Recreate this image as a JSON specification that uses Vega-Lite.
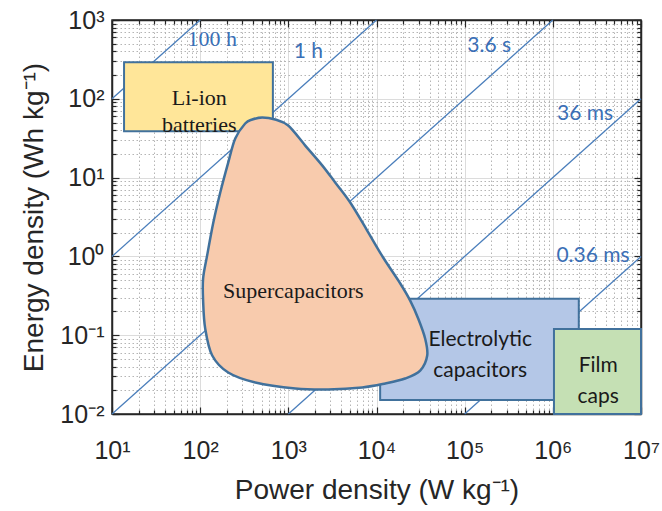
{
  "$schema": "https://vega.github.io/schema/vega-lite/v6.json",
  "width": 529,
  "height": 394,
  "autosize": "none",
  "padding": {"left": 112, "top": 20, "right": 21, "bottom": 97},
  "background": "white",
  "datasets": {
    "lines": [
      {"P1": 10, "E1": 100, "P2": 100, "E2": 1000},
      {"P1": 10, "E1": 1, "P2": 10000, "E2": 1000},
      {"P1": 10, "E1": 0.01, "P2": 1000000, "E2": 1000},
      {"P1": 1000, "E1": 0.01, "P2": 10000000, "E2": 100},
      {"P1": 100000, "E1": 0.01, "P2": 10000000, "E2": 1}
    ],
    "liion": [{"P1": 13.7, "P2": 668, "E1": 38.7, "E2": 292}],
    "electro": [{"P1": 11000, "P2": 1970000, "E1": 0.0151, "E2": 0.29}],
    "film": [{"P1": 1030000, "P2": 10000000, "E1": 0.01, "E2": 0.12}],
    "blob": [
      {"i": 1, "P": 506, "E": 57.9},
      {"i": 2, "P": 710, "E": 54.6},
      {"i": 3, "P": 997, "E": 45.8},
      {"i": 4, "P": 1556, "E": 25.5},
      {"i": 5, "P": 2420, "E": 14.3},
      {"i": 6, "P": 3400, "E": 8.67},
      {"i": 7, "P": 5035, "E": 4.83},
      {"i": 8, "P": 7840, "E": 2.13},
      {"i": 9, "P": 11900, "E": 0.968},
      {"i": 10, "P": 18600, "E": 0.453},
      {"i": 11, "P": 24100, "E": 0.275},
      {"i": 12, "P": 29700, "E": 0.163},
      {"i": 13, "P": 35600, "E": 0.0908},
      {"i": 14, "P": 37600, "E": 0.0552},
      {"i": 15, "P": 31300, "E": 0.0356},
      {"i": 16, "P": 21100, "E": 0.0282},
      {"i": 17, "P": 12600, "E": 0.0244},
      {"i": 18, "P": 6890, "E": 0.0217},
      {"i": 19, "P": 2830, "E": 0.0205},
      {"i": 20, "P": 1200, "E": 0.0211},
      {"i": 21, "P": 422, "E": 0.0251},
      {"i": 22, "P": 208, "E": 0.0336},
      {"i": 23, "P": 137, "E": 0.0552},
      {"i": 24, "P": 114, "E": 0.122},
      {"i": 25, "P": 108, "E": 0.275},
      {"i": 26, "P": 108, "E": 0.525},
      {"i": 27, "P": 120, "E": 1.03},
      {"i": 28, "P": 141, "E": 2.69},
      {"i": 29, "P": 169, "E": 6.47},
      {"i": 30, "P": 208, "E": 15.5},
      {"i": 31, "P": 250, "E": 31.3},
      {"i": 32, "P": 324, "E": 48.6},
      {"i": 33, "P": 390, "E": 54.6}
    ],
    "timeSerif": [{"P": 137, "E": 566, "t": "100 h"}],
    "timeSans": [
      {"P": 1683, "E": 387, "t": "1 h"},
      {"P": 189700, "E": 474, "t": "3.6 s"},
      {"P": 2320000, "E": 65, "t": "36 ms"},
      {"P": 2860000, "E": 0.998, "t": "0.36 ms"}
    ],
    "boxSerif": [
      {"P": 97.7, "E": 101, "t": "Li-ion\nbatteries"},
      {"P": 1138, "E": 0.369, "t": "Supercapacitors"}
    ],
    "boxSans": [
      {"P": 150000, "E": 0.0857, "t": "Electrolytic\ncapacitors"},
      {"P": 3270000, "E": 0.0401, "t": "Film\ncaps"}
    ]
  },
  "layer": [
    {
      "data": {"name": "lines"},
      "mark": {"type": "rule", "color": "#4A7EBB", "strokeWidth": 1.3},
      "encoding": {
        "x": {
          "field": "P1", "type": "quantitative",
          "scale": {"type": "log", "domain": [10, 10000000], "nice": false},
          "axis": {
            "orient": "bottom",
            "values": [10,20,30,40,50,60,70,80,90,100,200,300,400,500,600,700,800,900,1000,2000,3000,4000,5000,6000,7000,8000,9000,10000,20000,30000,40000,50000,60000,70000,80000,90000,100000,200000,300000,400000,500000,600000,700000,800000,900000,1000000,2000000,3000000,4000000,5000000,6000000,7000000,8000000,9000000,10000000],
            "labelExpr": "abs(log(datum.value)/LN10 - round(log(datum.value)/LN10)) < 0.001 ? '10' + ['⁻²','⁻¹','⁰','¹','²','³','⁴','⁵','⁶','⁷'][round(log(datum.value)/LN10) + 2] : ''",
            "labelOverlap": false,
            "labelFlush": false,
            "labelPadding": 31,
            "tickSize": {"condition": {"test": "abs(log(datum.value)/LN10 - round(log(datum.value)/LN10)) < 0.001", "value": -7}, "value": -4},
            "grid": true,
            "gridColor": {"condition": {"test": "abs(log(datum.value)/LN10 - round(log(datum.value)/LN10)) < 0.001", "value": "#dcdcdc"}, "value": "#b5b5b5"},
            "gridDash": {"condition": {"test": "abs(log(datum.value)/LN10 - round(log(datum.value)/LN10)) < 0.001", "value": []}, "value": [1.5, 2.5]},
            "title": "Power density (W kg⁻¹)",
            "titlePadding": 10
          }
        },
        "x2": {"field": "P2"},
        "y": {
          "field": "E1", "type": "quantitative",
          "scale": {"type": "log", "domain": [0.01, 1000], "nice": false},
          "axis": {
            "orient": "left",
            "values": [0.01,0.02,0.03,0.04,0.05,0.06,0.07,0.08,0.09,0.1,0.2,0.3,0.4,0.5,0.6,0.7,0.8,0.9,1,2,3,4,5,6,7,8,9,10,20,30,40,50,60,70,80,90,100,200,300,400,500,600,700,800,900,1000],
            "labelExpr": "abs(log(datum.value)/LN10 - round(log(datum.value)/LN10)) < 0.001 ? '10' + ['⁻²','⁻¹','⁰','¹','²','³','⁴','⁵','⁶','⁷'][round(log(datum.value)/LN10) + 2] : ''",
            "labelOverlap": false,
            "labelFlush": false,
            "labelPadding": 15,
            "tickSize": {"condition": {"test": "abs(log(datum.value)/LN10 - round(log(datum.value)/LN10)) < 0.001", "value": -7}, "value": -4},
            "grid": true,
            "gridColor": {"condition": {"test": "abs(log(datum.value)/LN10 - round(log(datum.value)/LN10)) < 0.001", "value": "#dcdcdc"}, "value": "#b5b5b5"},
            "gridDash": {"condition": {"test": "abs(log(datum.value)/LN10 - round(log(datum.value)/LN10)) < 0.001", "value": []}, "value": [1.5, 2.5]},
            "title": "Energy density (Wh kg⁻¹)",
            "titlePadding": 11
          }
        },
        "y2": {"field": "E2"}
      }
    },
    {
      "data": {"name": "liion"},
      "mark": {"type": "rect", "fill": "#FFE699", "stroke": "#41719C", "strokeWidth": 2},
      "encoding": {
        "x": {
          "field": "P1", "type": "quantitative",
          "scale": {"type": "log", "domain": [10, 10000000], "nice": false},
          "axis": {
            "orient": "top",
            "values": [10,20,30,40,50,60,70,80,90,100,200,300,400,500,600,700,800,900,1000,2000,3000,4000,5000,6000,7000,8000,9000,10000,20000,30000,40000,50000,60000,70000,80000,90000,100000,200000,300000,400000,500000,600000,700000,800000,900000,1000000,2000000,3000000,4000000,5000000,6000000,7000000,8000000,9000000,10000000],
            "labels": false,
            "grid": false,
            "title": null,
            "tickSize": {"condition": {"test": "abs(log(datum.value)/LN10 - round(log(datum.value)/LN10)) < 0.001", "value": -7}, "value": -4}
          }
        },
        "x2": {"field": "P2"},
        "y": {
          "field": "E1", "type": "quantitative",
          "scale": {"type": "log", "domain": [0.01, 1000], "nice": false},
          "axis": {
            "orient": "right",
            "values": [0.01,0.02,0.03,0.04,0.05,0.06,0.07,0.08,0.09,0.1,0.2,0.3,0.4,0.5,0.6,0.7,0.8,0.9,1,2,3,4,5,6,7,8,9,10,20,30,40,50,60,70,80,90,100,200,300,400,500,600,700,800,900,1000],
            "labels": false,
            "grid": false,
            "title": null,
            "tickSize": {"condition": {"test": "abs(log(datum.value)/LN10 - round(log(datum.value)/LN10)) < 0.001", "value": -7}, "value": -4}
          }
        },
        "y2": {"field": "E2"}
      }
    },
    {
      "data": {"name": "electro"},
      "mark": {"type": "rect", "fill": "#B4C7E7", "stroke": "#41719C", "strokeWidth": 2},
      "encoding": {
        "x": {"field": "P1", "type": "quantitative", "scale": {"type": "log", "domain": [10, 10000000], "nice": false}, "axis": null},
        "x2": {"field": "P2"},
        "y": {"field": "E1", "type": "quantitative", "scale": {"type": "log", "domain": [0.01, 1000], "nice": false}, "axis": null},
        "y2": {"field": "E2"}
      }
    },
    {
      "data": {"name": "film"},
      "mark": {"type": "rect", "fill": "#C5E0B4", "stroke": "#41719C", "strokeWidth": 2},
      "encoding": {
        "x": {"field": "P1", "type": "quantitative", "scale": {"type": "log", "domain": [10, 10000000], "nice": false}, "axis": null},
        "x2": {"field": "P2"},
        "y": {"field": "E1", "type": "quantitative", "scale": {"type": "log", "domain": [0.01, 1000], "nice": false}, "axis": null},
        "y2": {"field": "E2"}
      }
    },
    {
      "data": {"name": "blob"},
      "mark": {"type": "line", "interpolate": "cardinal-closed", "fill": "#F8CBAD", "stroke": "#41719C", "strokeWidth": 2.5},
      "encoding": {
        "x": {"field": "P", "type": "quantitative", "scale": {"type": "log", "domain": [10, 10000000], "nice": false}, "axis": null},
        "y": {"field": "E", "type": "quantitative", "scale": {"type": "log", "domain": [0.01, 1000], "nice": false}, "axis": null},
        "order": {"field": "i", "type": "quantitative"}
      }
    },
    {
      "data": {"name": "timeSerif"},
      "mark": {"type": "text", "font": "Liberation Serif", "fontSize": 22, "color": "#3B6FB6"},
      "encoding": {
        "x": {"field": "P", "type": "quantitative", "scale": {"type": "log", "domain": [10, 10000000], "nice": false}, "axis": null},
        "y": {"field": "E", "type": "quantitative", "scale": {"type": "log", "domain": [0.01, 1000], "nice": false}, "axis": null},
        "text": {"field": "t"}
      }
    },
    {
      "data": {"name": "timeSans"},
      "mark": {"type": "text", "font": "Lato", "fontSize": 21, "color": "#3B6FB6"},
      "encoding": {
        "x": {"field": "P", "type": "quantitative", "scale": {"type": "log", "domain": [10, 10000000], "nice": false}, "axis": null},
        "y": {"field": "E", "type": "quantitative", "scale": {"type": "log", "domain": [0.01, 1000], "nice": false}, "axis": null},
        "text": {"field": "t"}
      }
    },
    {
      "data": {"name": "boxSerif"},
      "mark": {"type": "text", "font": "Liberation Serif", "fontSize": 22, "color": "#1a1a1a", "lineBreak": "\n", "lineHeight": 27},
      "encoding": {
        "x": {"field": "P", "type": "quantitative", "scale": {"type": "log", "domain": [10, 10000000], "nice": false}, "axis": null},
        "y": {"field": "E", "type": "quantitative", "scale": {"type": "log", "domain": [0.01, 1000], "nice": false}, "axis": null},
        "text": {"field": "t"}
      }
    },
    {
      "data": {"name": "boxSans"},
      "mark": {"type": "text", "font": "Lato", "fontSize": 21, "color": "#1a1a1a", "lineBreak": "\n", "lineHeight": 31},
      "encoding": {
        "x": {"field": "P", "type": "quantitative", "scale": {"type": "log", "domain": [10, 10000000], "nice": false}, "axis": null},
        "y": {"field": "E", "type": "quantitative", "scale": {"type": "log", "domain": [0.01, 1000], "nice": false}, "axis": null},
        "text": {"field": "t"}
      }
    }
  ],
  "resolve": {"axis": {"x": "independent", "y": "independent"}},
  "config": {
    "view": {"stroke": "#262626", "strokeWidth": 1.5},
    "axis": {
      "labelFont": "Liberation Sans",
      "labelFontSize": 25,
      "labelColor": "#262626",
      "titleFont": "Liberation Sans",
      "titleFontSize": 28,
      "titleFontWeight": "normal",
      "titleColor": "#262626",
      "tickColor": "#262626",
      "tickWidth": 1.2,
      "domainColor": "#262626",
      "domainWidth": 1.5,
      "gridWidth": 1
    }
  }
}
